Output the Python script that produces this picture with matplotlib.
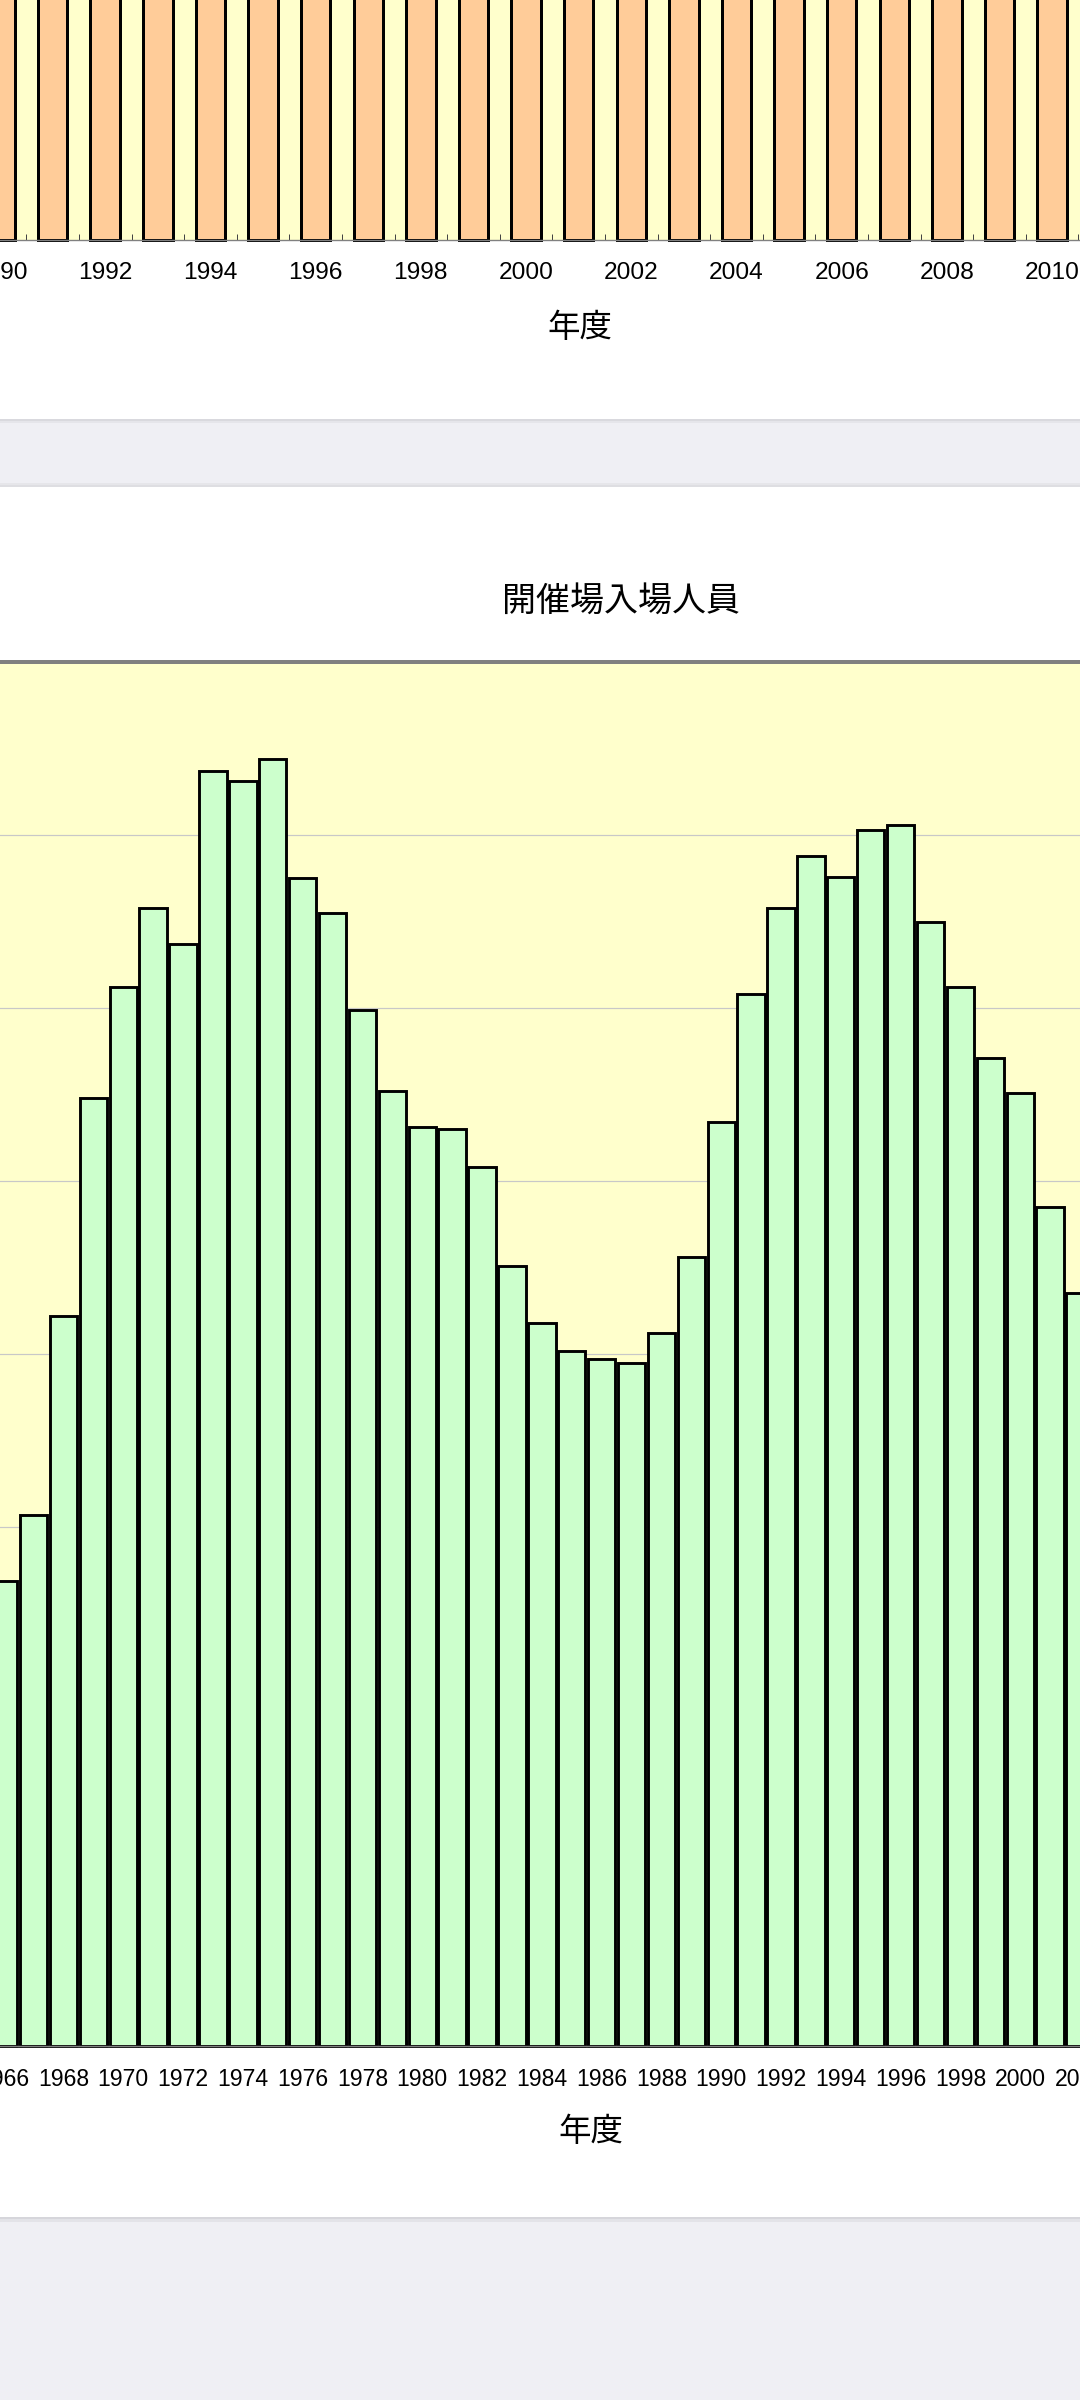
import matplotlib
matplotlib.use("Agg")
import matplotlib.pyplot as plt
from matplotlib.patches import Rectangle
from matplotlib.ticker import FixedLocator

# ---------------- data ----------------
# upper (cropped) chart: only the bottom of its bars is visible, every bar
# runs past the top of the screen
top_years = [1989, 1990, 1991, 1992, 1993, 1994, 1995, 1996, 1997, 1998, 1999,
             2000, 2001, 2002, 2003, 2004, 2005, 2006, 2007, 2008, 2009, 2010, 2011]
top_values = [1.6, 1.6, 1.6, 1.6, 1.6, 1.6, 1.6, 1.6, 1.6, 1.6, 1.6,
              1.6, 1.6, 1.6, 1.6, 1.6, 1.6, 1.6, 1.6, 1.6, 1.6, 1.6, 1.6]
top_tick_years = [1990, 1992, 1994, 1996, 1998, 2000, 2002, 2004, 2006, 2008, 2010]
top_tick_labels = ["1990", "1992", "1994", "1996", "1998", "2000", "2002",
                   "2004", "2006", "2008", "2010"]

# lower chart: 開催場入場人員 (values in grid-line units)
years = [1966, 1967, 1968, 1969, 1970, 1971, 1972, 1973, 1974, 1975, 1976,
         1977, 1978, 1979, 1980, 1981, 1982, 1983, 1984, 1985, 1986, 1987,
         1988, 1989, 1990, 1991, 1992, 1993, 1994, 1995, 1996, 1997, 1998,
         1999, 2000, 2001, 2002]
attendance = [2.69, 3.07, 4.22, 5.48, 6.12, 6.58, 6.37, 7.37, 7.31, 7.44, 6.75,
              6.55, 5.99, 5.52, 5.31, 5.30, 5.08, 4.51, 4.18, 4.02, 3.97, 3.95,
              4.12, 4.56, 5.34, 6.08, 6.58, 6.88, 6.76, 7.03, 7.06, 6.50, 6.12,
              5.71, 5.51, 4.85, 4.35]
tick_years = [1966, 1968, 1970, 1972, 1974, 1976, 1978, 1980, 1982, 1984, 1986,
              1988, 1990, 1992, 1994, 1996, 1998, 2000, 2002]
tick_labels = ["1966", "1968", "1970", "1972", "1974", "1976", "1978", "1980",
               "1982", "1984", "1986", "1988", "1990", "1992", "1994", "1996",
               "1998", "2000", "2002"]
grid_levels = [1, 2, 3, 4, 5, 6, 7, 8]

title = "開催場入場人員"
xlabel = "年度"

# ---------------- style ----------------
W, H = 1080, 2400
DPI = 100
PX = 72.0 / DPI  # points per pixel
CJK = ["Noto Sans CJK JP", "DejaVu Sans"]
NUM = ["Liberation Sans", "DejaVu Sans"]
PAGE_BG = "#EFEFF4"
PLOT_BG = "#FFFFCC"


def fy(px):
    return 1 - px / H


fig = plt.figure(figsize=(W / DPI, H / DPI), dpi=DPI, facecolor=PAGE_BG)

# page cards and their soft shadows
def band(y0, y1, color, z=0):
    fig.add_artist(Rectangle((0, fy(y1)), 1, (y1 - y0) / H, transform=fig.transFigure,
                             facecolor=color, edgecolor="none", zorder=z))

band(0, 419, "white")
band(419, 421, "#D9D9DE")
band(421, 423, "#E5E5EA")
band(483, 485, "#E6E6EA")
band(485, 487, "#DEDEE2")
band(487, 2217, "white")
band(2217, 2219, "#D6D6DB")
band(2219, 2222, "#E3E3E8")

# ---------------- upper chart ----------------
ax1 = fig.add_axes([0, fy(240), 1, 240 / H])
ax1.set_facecolor(PLOT_BG)
ax1.bar(top_years, top_values, width=0.56, color="#FFCC99", edgecolor="black",
        linewidth=3.0 * PX, clip_on=False, zorder=2)
ax1.set_xlim(1990.036, 2010.53)
ax1.set_ylim(0, 1)
for s in ["top", "left", "right"]:
    ax1.spines[s].set_visible(False)
ax1.spines["bottom"].set_color("#808080")
ax1.spines["bottom"].set_linewidth(1)
ax1.set_yticks([])
ax1.set_xticks(top_tick_years)
ax1.set_xticklabels(top_tick_labels, fontfamily=NUM, fontsize=24.5 * PX)
ax1.xaxis.set_minor_locator(FixedLocator([y + 0.5 for y in top_years]))
ax1.tick_params(axis="x", which="major", length=0, pad=22 * PX)
ax1.tick_params(axis="x", which="minor", direction="in", length=6 * PX,
                width=1 * PX, color="#444444")
fig.text(580 / W, fy(328), xlabel, ha="center", va="center",
         fontsize=32.5 * PX, family=CJK)

# ---------------- lower chart ----------------
fig.text(621 / W, fy(601), title, ha="center", va="center",
         fontsize=34 * PX, family=CJK)

ax2 = fig.add_axes([0, fy(2046), 1, (2046 - 662) / H])
ax2.set_facecolor(PLOT_BG)
ax2.set_xlim(1965.878, 2001.687)
ax2.set_ylim(0, 8)
for g in grid_levels[:-1]:
    ax2.axhline(g, color="#C8C8C8", linewidth=1.2 * PX, zorder=0.5)
ax2.bar(years, attendance, width=0.915, color="#CCFFCC", edgecolor="black",
        linewidth=2.9 * PX, clip_on=False, zorder=2)
for s in ["left", "right"]:
    ax2.spines[s].set_visible(False)
ax2.spines["top"].set_color("#808080")
ax2.spines["top"].set_linewidth(4 * PX)
ax2.spines["bottom"].set_color("#808080")
ax2.spines["bottom"].set_linewidth(1)
ax2.set_yticks([])
ax2.set_xticks(tick_years)
ax2.set_xticklabels(tick_labels, fontfamily=NUM, fontsize=23 * PX)
ax2.xaxis.set_minor_locator(FixedLocator([y + 0.5 for y in years]))
ax2.tick_params(axis="x", which="major", length=0, pad=22 * PX)
ax2.tick_params(axis="x", which="minor", direction="in", length=6 * PX,
                width=1 * PX, color="#444444")
fig.text(591 / W, fy(2132), xlabel, ha="center", va="center",
         fontsize=32.5 * PX, family=CJK)

fig.savefig("out.png", dpi=DPI, facecolor=PAGE_BG)
